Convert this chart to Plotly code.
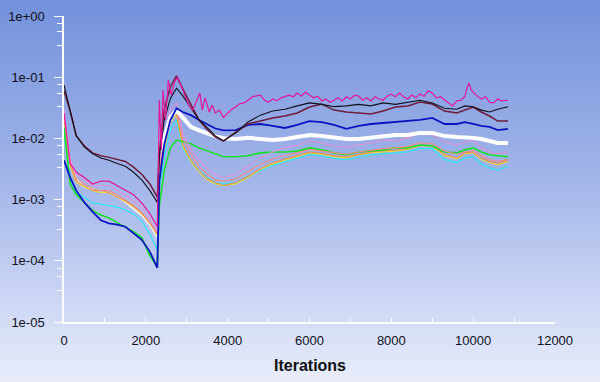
import base64
import plotly.graph_objects as go

# ---------------- data ----------------
iters = [0, 150, 300, 500, 700, 900, 1100, 1300, 1500, 1700, 1900, 2100, 2280,
         2330, 2450, 2600, 2750, 2900, 3100, 3300, 3500, 3700, 3900,
         4200, 4500, 4800, 5100, 5400, 5700, 6000, 6300, 6600, 6900, 7200, 7500,
         7800, 8100, 8400, 8700, 9000, 9300, 9600, 9800, 10000, 10200, 10400,
         10600, 10850]

black = [0.074, 0.030, 0.011, 0.0072, 0.0056, 0.0048, 0.0044, 0.0039, 0.0035, 0.0028, 0.0021, 0.0014, 0.0009,
         0.005, 0.020, 0.045, 0.066, 0.050, 0.032, 0.020, 0.015, 0.011, 0.0092,
         0.0123, 0.0185, 0.024, 0.028, 0.030, 0.034, 0.038, 0.036, 0.033, 0.034, 0.036, 0.034,
         0.038, 0.036, 0.039, 0.042, 0.038, 0.031, 0.030, 0.034, 0.033, 0.029, 0.027,
         0.030, 0.033]

maroon = [0.060, 0.028, 0.011, 0.0075, 0.0058, 0.0052, 0.0049, 0.0046, 0.0042, 0.0034, 0.0026, 0.0018, 0.0011,
          0.006, 0.030, 0.070, 0.105, 0.065, 0.035, 0.020, 0.014, 0.0105, 0.009,
          0.0127, 0.0172, 0.0192, 0.0216, 0.0232, 0.026, 0.0326, 0.0365, 0.029, 0.027, 0.026, 0.025,
          0.028, 0.0326, 0.0338, 0.0393, 0.0365, 0.028, 0.026, 0.029, 0.0326, 0.027, 0.0232,
          0.0192, 0.0192]

blue = [0.0044, 0.0023, 0.0014, 0.0009, 0.00063, 0.00046, 0.00041, 0.00039, 0.00036, 0.00028, 0.00022, 0.00014, 0.000077,
        0.002, 0.008, 0.020, 0.031, 0.027, 0.024, 0.020, 0.017, 0.0145, 0.0135,
        0.0137, 0.0166, 0.0172, 0.016, 0.0148, 0.0166, 0.0192, 0.0185, 0.0166, 0.0143, 0.016, 0.0172,
        0.0179, 0.0185, 0.0192, 0.020, 0.0216, 0.0172, 0.0172, 0.0185, 0.0172, 0.016, 0.0154,
        0.0137, 0.0143]

white = [0.020, 0.0045, 0.0022, 0.0016, 0.0015, 0.0014, 0.0013, 0.0011, 0.0009, 0.0007, 0.00055, 0.00038, 0.00024,
         0.006, 0.010, 0.022, 0.029, 0.022, 0.0155, 0.0135, 0.012, 0.0108, 0.0101,
         0.0098, 0.0102, 0.0098, 0.0094, 0.0098, 0.0105, 0.0114, 0.0109, 0.0102, 0.0098, 0.0098, 0.0102,
         0.0109, 0.0114, 0.0114, 0.0123, 0.0123, 0.0109, 0.0105, 0.0105, 0.0102, 0.0098, 0.0091,
         0.0084, 0.0084]

pink = [0.030, 0.0045, 0.0026, 0.0021, 0.0017, 0.0017, 0.0017, 0.0014, 0.0012, 0.00095, 0.00075, 0.00048, 0.0003,
        0.004, 0.012, 0.030, 0.038, 0.012, 0.0065, 0.0044, 0.0032, 0.0025, 0.0023,
        0.0026, 0.0035, 0.0048, 0.006, 0.007, 0.0078, 0.0091, 0.0084, 0.0075, 0.0072, 0.0078, 0.0084,
        0.0094, 0.0091, 0.0102, 0.0123, 0.0114, 0.0087, 0.0078, 0.0087, 0.0094, 0.007, 0.006,
        0.0056, 0.006]

salmon = [0.025, 0.004, 0.0022, 0.0018, 0.0015, 0.0014, 0.0014, 0.0012, 0.001, 0.0008, 0.00062, 0.00042, 0.00028,
          0.003, 0.010, 0.022, 0.030, 0.010, 0.0055, 0.0035, 0.0026, 0.0021, 0.002,
          0.0022, 0.0029, 0.0038, 0.0046, 0.0053, 0.0058, 0.0066, 0.0062, 0.0058, 0.0055, 0.006, 0.0064,
          0.0068, 0.007, 0.0074, 0.0085, 0.0082, 0.0062, 0.0055, 0.006, 0.0064, 0.0052, 0.0045,
          0.0042, 0.0045]

green = [0.015, 0.0018, 0.0012, 0.00088, 0.00066, 0.00056, 0.0005, 0.00042, 0.00036, 0.0003, 0.00024, 0.00012, 0.00008,
         0.0008, 0.003, 0.007, 0.0094, 0.0088, 0.0082, 0.007, 0.0062, 0.0055, 0.005,
         0.005, 0.0052, 0.0058, 0.006, 0.006, 0.0062, 0.007, 0.0065, 0.0058, 0.0054, 0.006, 0.0062,
         0.0065, 0.007, 0.007, 0.0078, 0.0075, 0.006, 0.0058, 0.0065, 0.007, 0.006, 0.0054,
         0.0052, 0.005]

cyan = [0.012, 0.0022, 0.0013, 0.0011, 0.00088, 0.00085, 0.0008, 0.00075, 0.00068, 0.00058, 0.00045, 0.00027, 0.00015,
        0.0015, 0.005, 0.014, 0.020, 0.007, 0.0042, 0.003, 0.0023, 0.0019, 0.0018,
        0.0019, 0.0024, 0.003, 0.0036, 0.0042, 0.0047, 0.0055, 0.0052, 0.0047, 0.0045, 0.005, 0.0054,
        0.0056, 0.0058, 0.006, 0.0068, 0.0068, 0.0045, 0.004, 0.0048, 0.005, 0.0038, 0.0033,
        0.003, 0.0035]

yellow = [0.02, 0.0035, 0.0019, 0.0016, 0.0014, 0.0013, 0.0013, 0.0011, 0.00092, 0.00075, 0.00058, 0.0004, 0.00026,
          0.002, 0.007, 0.018, 0.024, 0.0075, 0.0042, 0.0028, 0.0021, 0.0018, 0.0017,
          0.0018, 0.0023, 0.0031, 0.0038, 0.0044, 0.0050, 0.0058, 0.0055, 0.005, 0.0048, 0.0054, 0.0058,
          0.006, 0.0062, 0.0066, 0.0076, 0.0074, 0.0052, 0.0046, 0.0056, 0.0058, 0.0045, 0.004,
          0.0037, 0.0042]

orange = [0.022, 0.0038, 0.002, 0.0017, 0.0014, 0.0014, 0.0013, 0.0011, 0.00095, 0.00078, 0.0006, 0.00041, 0.00027,
          0.0025, 0.008, 0.02, 0.026, 0.008, 0.0045, 0.003, 0.0022, 0.0019, 0.0017,
          0.0019, 0.0024, 0.0032, 0.004, 0.0046, 0.0052, 0.006, 0.0057, 0.0052, 0.005, 0.0055, 0.006,
          0.0063, 0.0064, 0.0068, 0.0078, 0.0076, 0.0055, 0.0048, 0.0058, 0.006, 0.0048, 0.0042,
          0.0039, 0.0044]

mag_iters = [0, 150, 300, 500, 700, 900, 1100, 1300, 1500, 1700, 1900, 2100, 2280,
             2300, 2330, 2380, 2420, 2480, 2550, 2620, 2700, 2780, 2850, 2950, 3050, 3150, 3250,
             3320, 3380, 3450, 3550, 3620, 3700, 3800, 3900, 4000, 4100, 4200, 4300, 4400, 4500,
             4600, 4700, 4800, 4900, 5000, 5100, 5200, 5300, 5400, 5500, 5600, 5700, 5800, 5900,
             6000, 6100, 6200, 6300, 6400, 6500, 6600, 6700, 6800, 6900, 7000, 7100, 7200, 7300,
             7400, 7500, 7600, 7700, 7800, 7900, 8000, 8100, 8200, 8300, 8400, 8500, 8600, 8700,
             8800, 8900, 9000, 9100, 9200, 9300, 9400, 9500, 9600, 9700, 9800, 9850, 9900, 9950,
             10000, 10100, 10200, 10300, 10400, 10500, 10600, 10700, 10850]
magenta = [0.026, 0.0039, 0.0028, 0.0023, 0.0018, 0.002, 0.002, 0.0017, 0.0014, 0.0012, 0.00088, 0.00059, 0.00036,
           0.0021, 0.042, 0.0065, 0.062, 0.020, 0.090, 0.051, 0.084, 0.10, 0.075, 0.051, 0.035, 0.029, 0.042,
           0.055, 0.029, 0.046, 0.027, 0.035, 0.026, 0.029, 0.022, 0.026, 0.030, 0.033, 0.037, 0.038, 0.042,
           0.048, 0.049, 0.051, 0.042, 0.039, 0.044, 0.041, 0.046, 0.048, 0.051, 0.048, 0.055, 0.049, 0.057,
           0.051, 0.046, 0.049, 0.041, 0.044, 0.039, 0.042, 0.046, 0.041, 0.048, 0.044, 0.051, 0.049, 0.042,
           0.046, 0.041, 0.048, 0.044, 0.042, 0.049, 0.053, 0.048, 0.055, 0.048, 0.044, 0.051, 0.046, 0.053,
           0.049, 0.060, 0.055, 0.046, 0.048, 0.042, 0.038, 0.034, 0.041, 0.042, 0.049, 0.067, 0.080, 0.062,
           0.057, 0.049, 0.044, 0.048, 0.039, 0.038, 0.044, 0.041, 0.042]

y_tickvals = [1e-5, 1e-4, 1e-3, 1e-2, 1e-1, 1]
y_ticktext = ["1e-05", "1e-04", "1e-03", "1e-02", "1e-01", "1e+00"]
x_tickvals = [0, 2000, 4000, 6000, 8000, 10000, 12000]
x_ticktext = ["0", "2000", "4000", "6000", "8000", "10000", "12000"]
x_minor = [1000, 3000, 5000, 7000, 9000, 11000]
minor_fracs = [0.33, 0.55, 0.76]
x_title = "Iterations"

# ---------------- figure ----------------
W, H = 600, 382
ML, MR, MT, MB = 64, 45, 16, 60
PW, PH = W - ML - MR, H - MT - MB

fig = go.Figure()


def add(x, y, color, width):
    fig.add_trace(go.Scatter(x=x, y=y, mode="lines",
                             line=dict(color=color, width=width),
                             hoverinfo="skip", showlegend=False))


split = iters.index(2330)
add(iters[:split + 1], white[:split + 1], "#ffffff", 1.2)
add(iters, cyan, "#35e2f2", 1.3)
add(iters, yellow, "#f2e030", 1.0)
add(iters, orange, "#f08a3a", 1.0)
add(iters, green, "#18e02a", 1.6)
add(iters, salmon, "#f08a8a", 1.1)
add(iters, pink, "#e090d8", 1.1)
add(iters[split:], white[split:], "#ffffff", 4)
add(iters, blue, "#0a14c0", 1.8)
add(iters, maroon, "#6e1c38", 1.5)
add(iters, black, "#101018", 1.1)
add(mag_iters, magenta, "#e0189c", 1.2)

svg = ('<svg xmlns="http://www.w3.org/2000/svg" width="600" height="382" preserveAspectRatio="none">'
       '<defs><linearGradient id="g" x1="0" y1="0" x2="0" y2="1">'
       '<stop offset="0" stop-color="#7391dc"/>'
       '<stop offset="0.5" stop-color="#a6b8ea"/>'
       '<stop offset="1" stop-color="#e9edfb"/>'
       '</linearGradient></defs><rect width="600" height="382" fill="url(#g)"/></svg>')
src = "data:image/svg+xml;base64," + base64.b64encode(svg.encode()).decode()

minor_vals = [f * 10 * d for d in [1e-5, 1e-4, 1e-3, 1e-2, 1e-1] for f in minor_fracs]

fig.update_layout(
    width=W, height=H,
    margin=dict(l=ML, r=MR, t=MT, b=MB),
    paper_bgcolor="#a6b8ea",
    plot_bgcolor="rgba(0,0,0,0)",
    font=dict(family="Liberation Sans, Arial, sans-serif", size=13, color="#101020"),
    images=[dict(source=src, xref="paper", yref="paper",
                 x=-ML / PW, y=1 + MT / PH, sizex=W / PW, sizey=H / PH,
                 xanchor="left", yanchor="top", sizing="stretch", layer="below")],
    xaxis=dict(range=[0, 12000], tickvals=x_tickvals, ticktext=x_ticktext,
               showgrid=False, zeroline=False, showline=True, linecolor="white", linewidth=1.5,
               ticks="inside", ticklen=4, tickcolor="white", tickwidth=1,
               minor=dict(tickvals=x_minor, ticks="inside",
                          ticklen=4, tickcolor="white", showgrid=False),
               ticklabelstandoff=6, automargin=False, fixedrange=True),
    yaxis=dict(type="log", range=[-5, 0], tickvals=y_tickvals, ticktext=y_ticktext,
               showgrid=False, zeroline=False, showline=True, linecolor="white", linewidth=1.5,
               ticks="outside", ticklen=8, tickcolor="white", tickwidth=1,
               minor=dict(tickvals=minor_vals, ticks="outside", ticklen=5,
                          tickcolor="white", showgrid=False),
               ticklabelstandoff=7, automargin=False, fixedrange=True),
    annotations=[dict(text="<b>" + x_title + "</b>", xref="paper", yref="paper",
                      x=0.5, y=-43 / PH, xanchor="center", yanchor="middle",
                      showarrow=False, font=dict(size=16, color="#101010"))],
)

fig.write_html("out.html")
